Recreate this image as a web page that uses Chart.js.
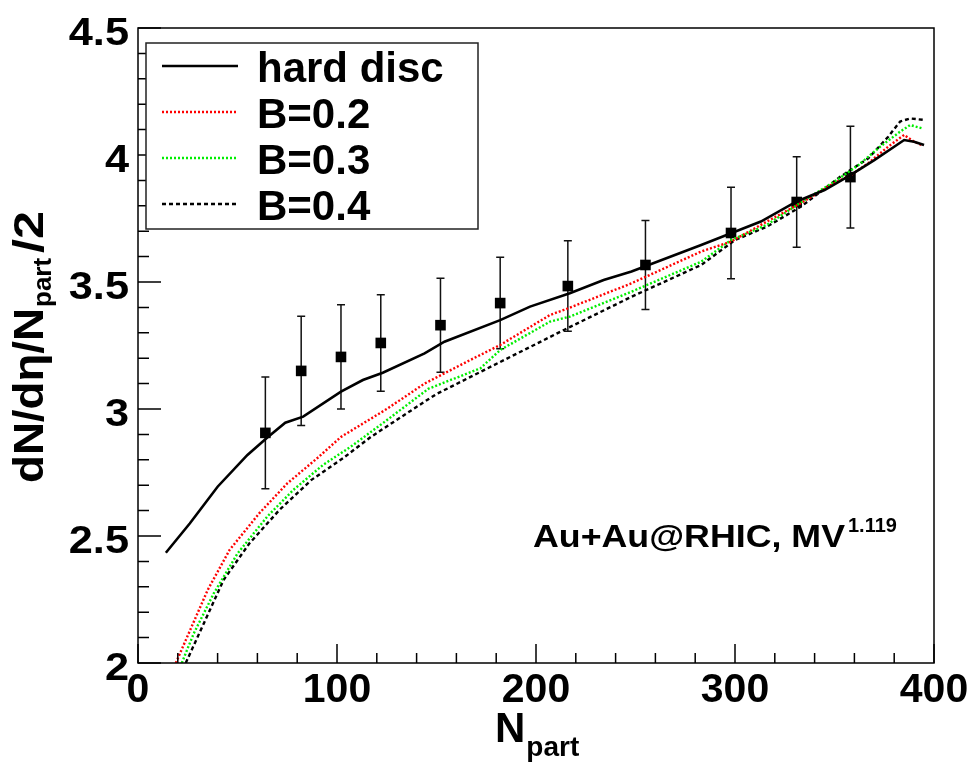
<!DOCTYPE html>
<html><head><meta charset="utf-8">
<script src="https://cdn.jsdelivr.net/npm/chart.js@4"></script>
<style>html,body{margin:0;padding:0;background:#fff;}canvas{display:block;}</style>
</head><body>
<canvas id="c" width="974" height="762"></canvas>
<script>
// ---- data ----
const hardX = [14, 26, 40, 55, 65, 74, 83, 102, 113, 123, 144, 154, 182, 197, 217, 234, 248, 283, 298, 313, 331, 345, 358, 370, 385, 390, 395];
const hardY = [2.434, 2.549, 2.694, 2.819, 2.888, 2.946, 2.970, 3.068, 3.114, 3.143, 3.219, 3.265, 3.350, 3.403, 3.456, 3.508, 3.541, 3.646, 3.692, 3.738, 3.817, 3.862, 3.921, 3.98, 4.059, 4.052, 4.039];

const b02X = [19, 24, 35, 46, 61, 75, 90, 102, 125, 144, 167, 182, 207, 214, 231, 248, 283, 298, 316, 333, 350, 358, 367, 377, 385, 390, 394];
const b02Y = [2.0, 2.09, 2.287, 2.445, 2.59, 2.707, 2.806, 2.89, 3.0, 3.1, 3.193, 3.252, 3.37, 3.39, 3.442, 3.495, 3.62, 3.659, 3.738, 3.81, 3.89, 3.92, 3.968, 4.033, 4.079, 4.052, 4.039];

const b03X = [22, 28, 38, 50, 65, 78, 93, 107, 123, 146, 172, 182, 207, 217, 248, 283, 298, 316, 335, 350, 362, 373, 383, 388, 394];
const b03Y = [2.0, 2.116, 2.273, 2.431, 2.577, 2.681, 2.78, 2.852, 2.944, 3.08, 3.16, 3.232, 3.344, 3.364, 3.462, 3.58, 3.665, 3.725, 3.823, 3.895, 3.96, 4.033, 4.092, 4.118, 4.105];

const b04X = [24, 33, 43, 56, 71, 87, 103, 117, 144, 150, 184, 214, 248, 283, 300, 316, 333, 353, 367, 377, 383, 388, 395];
const b04Y = [2.0, 2.155, 2.327, 2.471, 2.602, 2.72, 2.806, 2.89, 3.029, 3.059, 3.193, 3.311, 3.442, 3.567, 3.665, 3.718, 3.796, 3.915, 3.987, 4.072, 4.132, 4.144, 4.138];

const dataX   = [64, 82, 102, 122, 152, 182, 216, 255, 298, 331, 358];
const dataY   = [2.906, 3.15, 3.205, 3.26, 3.33, 3.417, 3.484, 3.567, 3.693, 3.815, 3.913];
const dataErr = [0.22, 0.215, 0.205, 0.19, 0.185, 0.18, 0.178, 0.175, 0.18, 0.178, 0.2];

const xTickLabels = [0, 100, 200, 300, 400];
const yTickLabels = [2, 2.5, 3, 3.5, 4, 4.5];
const legendNames = ["hard disc", "B=0.2", "B=0.3", "B=0.4"];

// ---- drawing helpers ----
const FONT = '"Liberation Sans", Arial, Helvetica, sans-serif';
function pts(xs, ys) { return xs.map((v, i) => ({x: v, y: ys[i]})); }
function measure(ctx, s, size) { ctx.save(); ctx.font = `bold ${size}px ${FONT}`; const w = ctx.measureText(s).width; ctx.restore(); return w; }
function text(ctx, s, x, y, size, align, sx) {
  sx = sx || 1;
  ctx.save();
  ctx.font = `bold ${size}px ${FONT}`;
  ctx.textAlign = align || 'left';
  ctx.textBaseline = 'alphabetic';
  ctx.fillStyle = '#000';
  ctx.translate(x, y); ctx.scale(sx, 1);
  ctx.fillText(s, 0, 0);
  ctx.restore();
  return measure(ctx, s, size) * sx;
}

const rootPlugin = {
  id: 'rootStyle',
  beforeDraw(chart) {
    const ctx = chart.ctx;
    ctx.save(); ctx.fillStyle = '#fff'; ctx.fillRect(0, 0, chart.width, chart.height); ctx.restore();
  },
  beforeDatasetsDraw(chart) {
    // error bars under the markers
    const {ctx, scales: {x, y}} = chart;
    ctx.save();
    ctx.strokeStyle = '#111'; ctx.lineWidth = 1.5;
    dataX.forEach((v, i) => {
      const px = x.getPixelForValue(v);
      const pt = y.getPixelForValue(dataY[i] + dataErr[i]);
      const pb = y.getPixelForValue(dataY[i] - dataErr[i]);
      ctx.beginPath();
      ctx.moveTo(px, pt); ctx.lineTo(px, pb);
      ctx.moveTo(px - 4, pt); ctx.lineTo(px + 4, pt);
      ctx.moveTo(px - 4, pb); ctx.lineTo(px + 4, pb);
      ctx.stroke();
    });
    ctx.restore();
  },
  afterDraw(chart) {
    const {ctx, chartArea: a, scales: {x, y}} = chart;
    ctx.save();
    // frame
    ctx.strokeStyle = '#000'; ctx.lineWidth = 1.5;
    ctx.strokeRect(a.left, a.top, a.right - a.left, a.bottom - a.top);
    // x ticks (inward)
    ctx.beginPath();
    for (let v = 0; v <= 400; v += 20) {
      const px = x.getPixelForValue(v);
      const len = (v % 100 === 0) ? 19 : 10;
      ctx.moveTo(px, a.bottom); ctx.lineTo(px, a.bottom - len);
    }
    // y ticks (inward)
    for (let k = 0; k <= 25; k++) {
      const v = 2 + k * 0.1;
      const py = y.getPixelForValue(v);
      const len = (k % 5 === 0) ? 23 : 11;
      ctx.moveTo(a.left, py); ctx.lineTo(a.left + len, py);
    }
    ctx.stroke();
    ctx.restore();

    // tick labels
    xTickLabels.forEach(v => text(ctx, String(v), x.getPixelForValue(v), 702, 41, 'center'));
    yTickLabels.forEach(v => text(ctx, String(v), 129, y.getPixelForValue(v) + 17, 38, 'right', 1.14));

    // axis titles
    const nw = text(ctx, 'N', 495, 742, 42, 'left');
    text(ctx, 'part', 495 + nw + 1, 756, 28, 'left');

    ctx.save();
    ctx.translate(43, 483); ctx.rotate(-Math.PI / 2);
    const main = 'dN/d\u03b7/N';
    const msx = 175 / measure(ctx, main, 42);
    const w1 = text(ctx, main, 0, 0, 42, 'left', msx);
    const w2 = text(ctx, 'part', w1 + 1, 8, 26, 'left');
    text(ctx, '/2', w1 + w2 + 6, 0, 42, 'left', 1.2);
    ctx.restore();

    // annotation
    const ann = 'Au+Au@RHIC, MV';
    const asx = 312 / measure(ctx, ann, 32);
    const aw = text(ctx, ann, 533, 547, 32, 'left', asx);
    text(ctx, '1.119', 533 + aw + 3, 532, 20, 'left', 1.0);

    // legend
    ctx.save();
    ctx.fillStyle = '#fff'; ctx.fillRect(146, 43, 332, 186);
    ctx.strokeStyle = '#222'; ctx.lineWidth = 1.5; ctx.strokeRect(146, 43, 332, 186);
    const rows = [66, 112, 158, 204];
    chart.data.datasets.slice(0, 4).forEach((ds, i) => {
      ctx.beginPath();
      ctx.strokeStyle = ds.borderColor; ctx.lineWidth = ds.borderWidth;
      ctx.setLineDash(ds.borderDash || []);
      ctx.moveTo(162, rows[i]); ctx.lineTo(238, rows[i]);
      ctx.stroke();
      ctx.setLineDash([]);
      text(ctx, legendNames[i], 257, rows[i] + 16, 42, 'left');
    });
    ctx.restore();
  }
};

new Chart(document.getElementById('c'), {
  type: 'scatter',
  data: {
    datasets: [
      {label: legendNames[0], data: pts(hardX, hardY), showLine: true, borderColor: '#000', borderWidth: 2.6, pointRadius: 0, fill: false},
      {label: legendNames[1], data: pts(b02X, b02Y), showLine: true, borderColor: '#ff0000', borderWidth: 2.4, borderDash: [2, 2], pointRadius: 0, fill: false},
      {label: legendNames[2], data: pts(b03X, b03Y), showLine: true, borderColor: '#00ee00', borderWidth: 2.4, borderDash: [2, 2], pointRadius: 0, fill: false},
      {label: legendNames[3], data: pts(b04X, b04Y), showLine: true, borderColor: '#000', borderWidth: 2.4, borderDash: [4, 3], pointRadius: 0, fill: false},
      {label: 'data', data: pts(dataX, dataY), showLine: false, pointStyle: 'rect', pointRadius: 7.5, backgroundColor: '#000', borderColor: '#000', borderWidth: 0}
    ]
  },
  options: {
    responsive: false,
    animation: false,
    layout: {padding: {left: 138, right: 40, top: 28, bottom: 99}},
    plugins: {legend: {display: false}, tooltip: {enabled: false}},
    scales: {
      x: {type: 'linear', min: 0, max: 400, display: false},
      y: {type: 'linear', min: 2, max: 4.5, display: false}
    }
  },
  plugins: [rootPlugin]
});
</script>
</body></html>
